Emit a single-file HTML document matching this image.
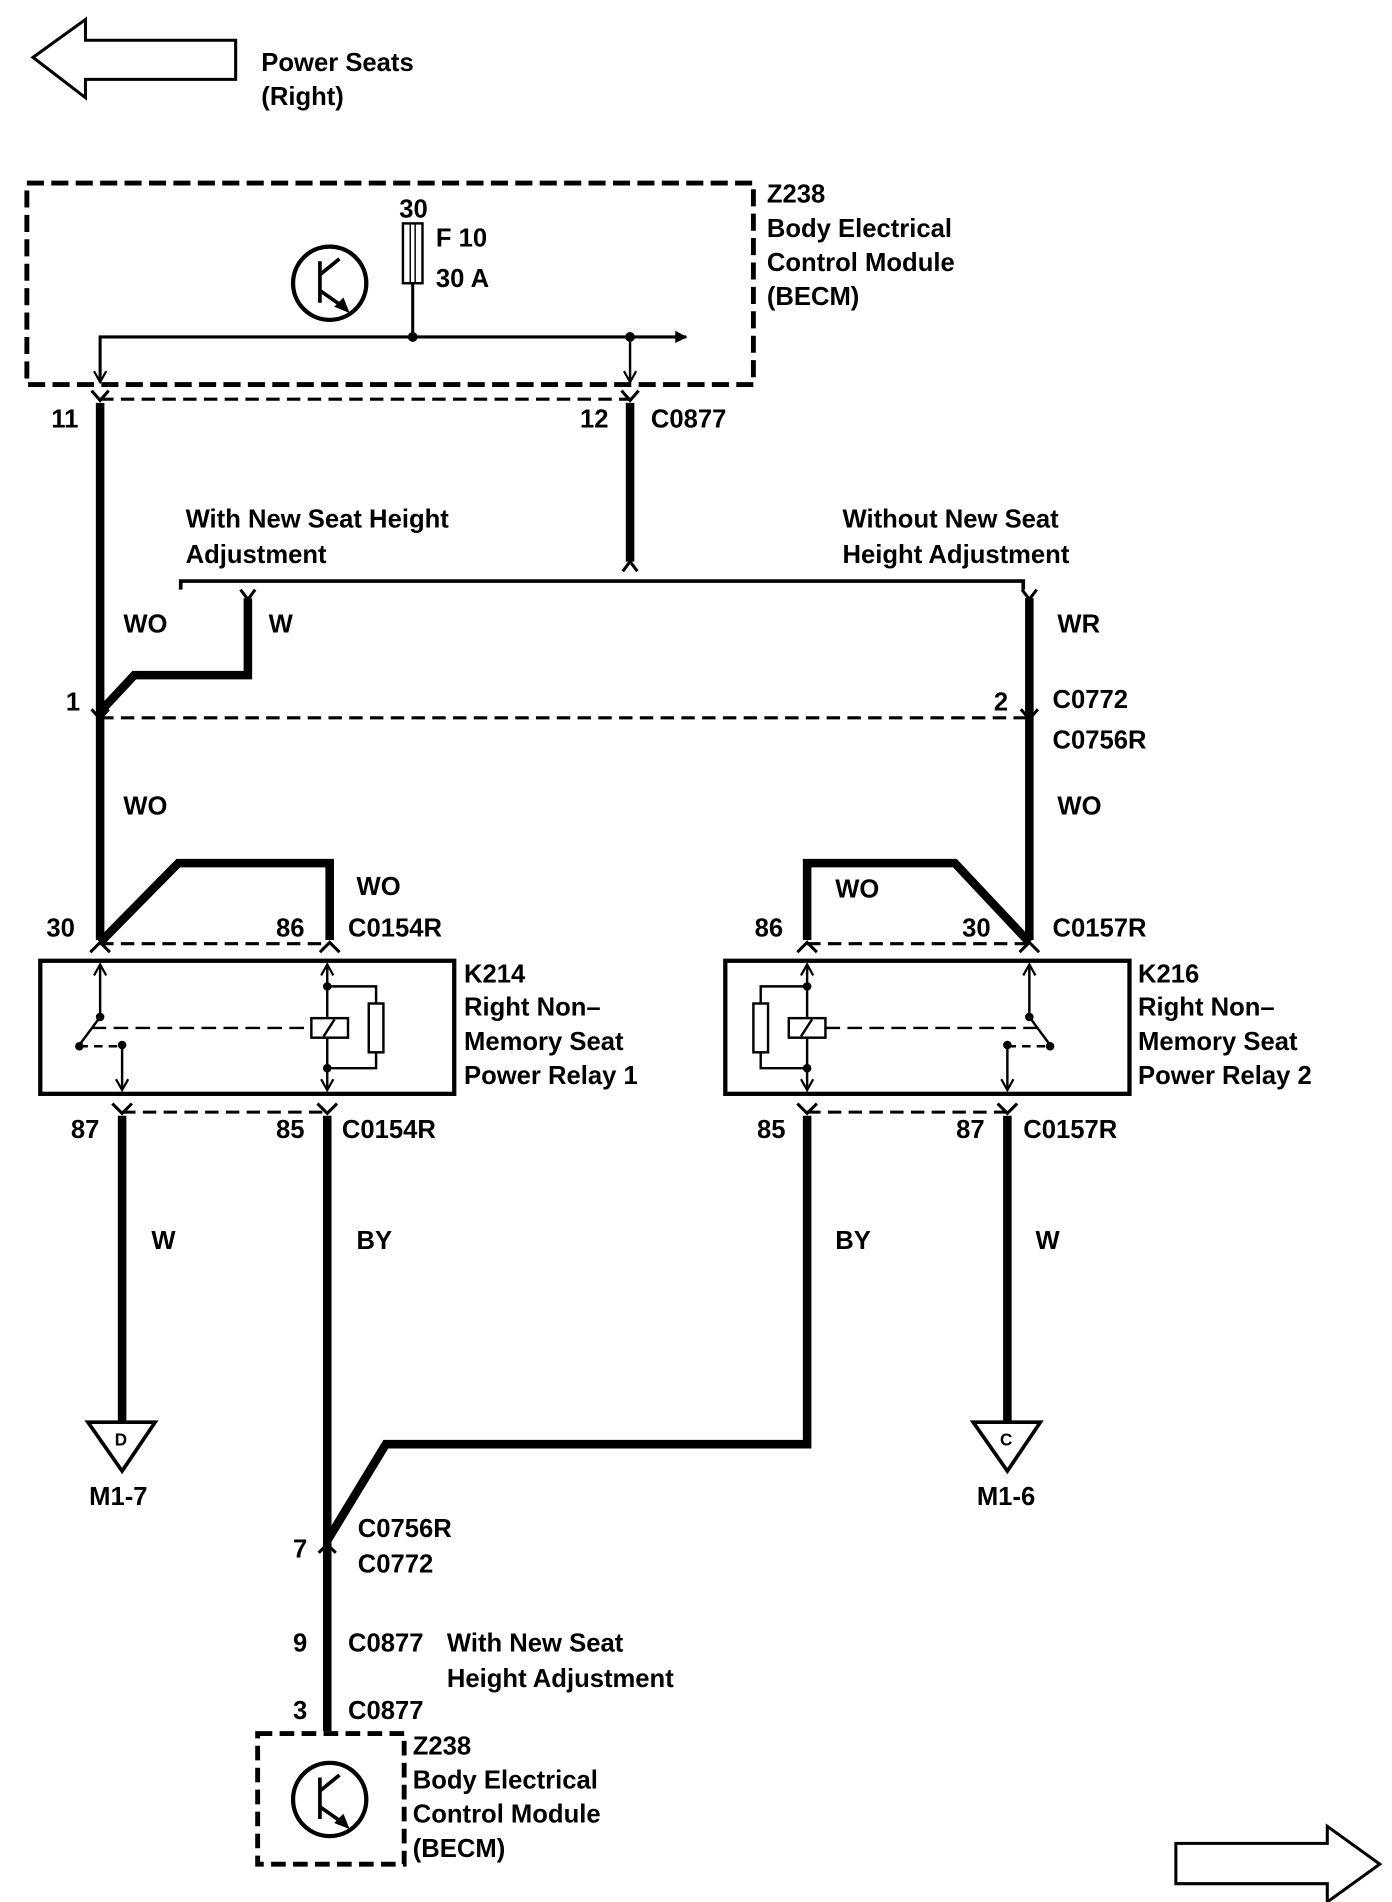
<!DOCTYPE html>
<html><head><meta charset="utf-8"><style>
html,body{margin:0;padding:0;background:#fff}
svg{display:block}
text{font-family:"Liberation Sans",sans-serif;font-weight:bold;font-size:21px;fill:#000}
</style></head><body>
<svg width="1392" height="1902" viewBox="0 0 1140 1558" preserveAspectRatio="none" xmlns="http://www.w3.org/2000/svg">
<defs>
<marker id="ah" markerWidth="10" markerHeight="10" refX="9" refY="5" orient="auto" markerUnits="userSpaceOnUse"><path d="M0,0 L10,5 L0,10 z" fill="#000"/></marker>
<marker id="oa" markerWidth="12" markerHeight="12" refX="10" refY="6" orient="auto" markerUnits="userSpaceOnUse"><path d="M1,1 L10,6 L1,11" fill="none" stroke="#000" stroke-width="1.8"/></marker>
</defs>
<g fill="none" stroke="#000">
<path d="M27,47 L70,16 L70,33 L193,33 L193,65 L70,65 L70,80 Z" stroke-width="2.5"/>
<path d="M1130,1527 L1087,1496 L1087,1510 L963,1510 L963,1543 L1087,1543 L1087,1558 Z" stroke-width="2.5"/>
<rect x="22" y="150" width="595" height="165" stroke-width="4" stroke-dasharray="14,6"/>
<circle cx="270" cy="232" r="30" stroke-width="3.5"/>
<path d="M262,214 V248 M262,225 L278,212 M262,238 L282,252" stroke-width="3"/>
<path d="M275,251 L285,255 L281,245 Z" fill="#000" stroke-width="1.5"/>
<rect x="330" y="183" width="16" height="49" stroke-width="2"/>
<path d="M336,183 V232 M340,183 V232" stroke-width="1.2"/>
<path d="M338,232 V276" stroke-width="2.5"/>
<path d="M82,313 V276 H562" stroke-width="2.5" marker-end="url(#ah)"/>
<path d="M82,276 V313" stroke-width="2" marker-end="url(#oa)"/>
<path d="M516,276 V313" stroke-width="2" marker-end="url(#oa)"/>
<g stroke-width="2.5" stroke-dasharray="11,6">
<path d="M82,327 H516"/>
<path d="M82,588 H843"/>
<path d="M82,773 H270"/>
<path d="M661,773 H843"/>
<path d="M100,911 H268"/>
<path d="M661,911 H825"/>
</g>
<g stroke-width="7" stroke-linejoin="miter">
<path d="M82,330 V770"/>
<path d="M516,330 V460"/>
<path d="M203,490 V553 H110 L82,583"/>
<path d="M843,490 V770"/>
<path d="M82,772 L146,707 H270 V770"/>
<path d="M843,772 L782,707 H661 V770"/>
<path d="M100,914 V1165"/>
<path d="M268,914 V1418"/>
<path d="M661,914 V1183 H316 L268,1262"/>
<path d="M825,914 V1165"/>
</g>
<path d="M148,483 V476 H838 V483" stroke-width="3"/>
<g stroke-width="2.5">
<path d="M510,468 L516,460 L522,468"/>
<path d="M197,483 L203,491 L209,483 M837,483 L843,491 L849,483"/>
<path d="M75,320 L82,328 L89,320 M509,320 L516,328 L523,320"/>
<path d="M75,581 L82,589 L89,581 M836,581 L843,589 L850,581"/>
<path d="M74,780 L82,772 L90,780 M262,780 L270,772 L278,780 M653,780 L661,772 L669,780 M835,780 L843,772 L851,780"/>
<path d="M92,904 L100,912 L108,904 M260,904 L268,912 L276,904 M653,904 L661,912 L669,904 M817,904 L825,912 L833,904"/>
<path d="M261,1272 L268,1265 L275,1272"/>
</g>
<rect x="33" y="787" width="339" height="109" stroke-width="3.5"/>
<path d="M82,833 V790" stroke-width="2" marker-end="url(#oa)"/>
<path d="M82,833 L65,856" stroke-width="2"/>
<path d="M100,856 V893" stroke-width="2" marker-end="url(#oa)"/>
<path d="M65,857 H100" stroke-width="2" stroke-dasharray="7,5"/>
<path d="M75,842 H255" stroke-width="2" stroke-dasharray="12,6"/>
<path d="M268,834 V790" stroke-width="2" marker-end="url(#oa)"/>
<path d="M268,850 V893" stroke-width="2" marker-end="url(#oa)"/>
<rect x="255" y="834" width="30" height="16" stroke-width="2" fill="#fff"/>
<path d="M265,849 L274,835" stroke-width="2"/>
<path d="M268,808 H308 V822 M308,862 V875 H268" stroke-width="2"/>
<rect x="302" y="822" width="12" height="40" stroke-width="2"/>
<rect x="594" y="787" width="331" height="109" stroke-width="3.5"/>
<path d="M843,833 V790" stroke-width="2" marker-end="url(#oa)"/>
<path d="M843,833 L860,856" stroke-width="2"/>
<path d="M825,856 V893" stroke-width="2" marker-end="url(#oa)"/>
<path d="M825,857 H860" stroke-width="2" stroke-dasharray="7,5"/>
<path d="M676,842 H850" stroke-width="2" stroke-dasharray="12,6"/>
<path d="M661,834 V790" stroke-width="2" marker-end="url(#oa)"/>
<path d="M661,850 V893" stroke-width="2" marker-end="url(#oa)"/>
<rect x="646" y="834" width="30" height="16" stroke-width="2" fill="#fff"/>
<path d="M656,849 L665,835" stroke-width="2"/>
<path d="M661,808 H623 V822 M623,862 V875 H661" stroke-width="2"/>
<rect x="617" y="822" width="12" height="40" stroke-width="2"/>
<path d="M72,1165 H127 L100,1205 Z" stroke-width="3"/>
<path d="M797,1165 H852 L825,1205 Z" stroke-width="3"/>
<rect x="211" y="1420" width="120" height="107" stroke-width="4" stroke-dasharray="12,6"/>
<circle cx="270" cy="1474" r="30" stroke-width="3.5"/>
<path d="M262,1456 V1490 M262,1467 L278,1454 M262,1480 L282,1494" stroke-width="3"/>
<path d="M275,1493 L285,1497 L281,1487 Z" fill="#000" stroke-width="1.5"/>
</g>
<g fill="#000">
<circle cx="338" cy="276" r="4"/><circle cx="516" cy="276" r="4"/>
<circle cx="82" cy="833" r="3.5"/><circle cx="65" cy="857" r="3.5"/><circle cx="100" cy="856" r="3.5"/>
<circle cx="268" cy="808" r="3.5"/><circle cx="268" cy="875" r="3.5"/>
<circle cx="843" cy="833" r="3.5"/><circle cx="860" cy="857" r="3.5"/><circle cx="825" cy="856" r="3.5"/>
<circle cx="661" cy="808" r="3.5"/><circle cx="661" cy="875" r="3.5"/>
</g>
<text x="214" y="58">Power Seats</text><text x="214" y="86">(Right)</text>
<text x="327" y="178">30</text><text x="357" y="202">F 10</text><text x="357" y="235">30 A</text>
<text x="628" y="166">Z238</text><text x="628" y="194">Body Electrical</text><text x="628" y="222">Control Module</text><text x="628" y="250">(BECM)</text>
<text x="42" y="350">11</text><text x="475" y="350">12</text><text x="533" y="350">C0877</text>
<text x="152" y="432">With New Seat Height</text><text x="152" y="461">Adjustment</text>
<text x="690" y="432">Without New Seat</text><text x="690" y="461">Height Adjustment</text>
<text x="101" y="518">WO</text><text x="220" y="518">W</text><text x="866" y="518">WR</text>
<text x="54" y="582">1</text><text x="814" y="582">2</text><text x="862" y="580">C0772</text><text x="862" y="613">C0756R</text>
<text x="101" y="667">WO</text><text x="866" y="667">WO</text>
<text x="292" y="733">WO</text><text x="684" y="735">WO</text>
<text x="38" y="767">30</text><text x="226" y="767">86</text><text x="285" y="767">C0154R</text>
<text x="618" y="767">86</text><text x="788" y="767">30</text><text x="862" y="767">C0157R</text>
<text x="380" y="805">K214</text><text x="380" y="832">Right Non–</text><text x="380" y="860">Memory Seat</text><text x="380" y="888">Power Relay 1</text>
<text x="932" y="805">K216</text><text x="932" y="832">Right Non–</text><text x="932" y="860">Memory Seat</text><text x="932" y="888">Power Relay 2</text>
<text x="58" y="932">87</text><text x="226" y="932">85</text><text x="280" y="932">C0154R</text>
<text x="620" y="932">85</text><text x="783" y="932">87</text><text x="838" y="932">C0157R</text>
<text x="124" y="1023">W</text><text x="292" y="1023">BY</text><text x="684" y="1023">BY</text><text x="848" y="1023">W</text>
<text x="94" y="1184" style="font-size:14px">D</text><text x="819" y="1184" style="font-size:14px">C</text>
<text x="73" y="1233">M1-7</text><text x="800" y="1233">M1-6</text>
<text x="293" y="1259">C0756R</text><text x="240" y="1276">7</text><text x="293" y="1288">C0772</text>
<text x="240" y="1353">9</text><text x="285" y="1353">C0877</text><text x="366" y="1353">With New Seat</text><text x="366" y="1382">Height Adjustment</text>
<text x="240" y="1408">3</text><text x="285" y="1408">C0877</text>
<text x="338" y="1437">Z238</text><text x="338" y="1465">Body Electrical</text><text x="338" y="1493">Control Module</text><text x="338" y="1521">(BECM)</text>
</svg>
</body></html>
